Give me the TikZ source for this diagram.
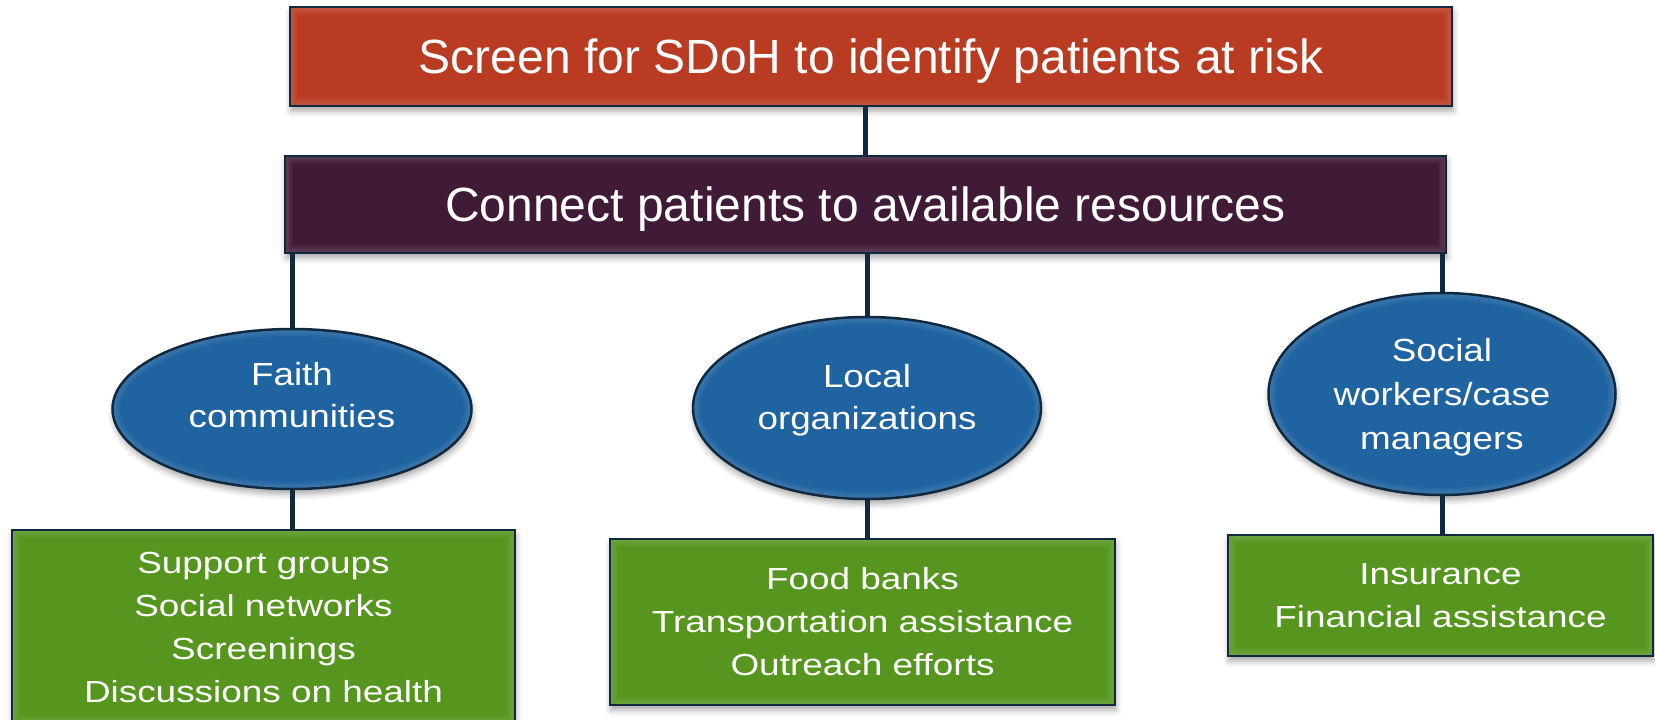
\documentclass[tikz,border=0pt]{standalone}
\usepackage{fontspec}
\setmainfont{Liberation Sans}
\newfontfamily\ovalface{Liberation Sans}[FakeStretch=1.15]
\newfontfamily\listface{Liberation Sans}[FakeStretch=1.21]
\usetikzlibrary{positioning,calc,shapes.geometric,shadows.blur}
\definecolor{ScreenRed}{HTML}{B93B21}
\definecolor{ConnectPlum}{HTML}{401B38}
\definecolor{SourceBlue}{HTML}{1F63A0}
\definecolor{OfferGreen}{HTML}{56961F}
\definecolor{EdgeNavy}{HTML}{10293F}

\begin{document}
\begin{tikzpicture}[x=1pt,y=-1pt,
    soft/.style={blur shadow={shadow xshift=1pt, shadow yshift=-5pt, shadow blur radius=6pt, shadow opacity=35}},
    boxglow/.style={path picture={
        \foreach \w in {16,12,8,4}
            \draw[white, opacity=0.04, line width=\w pt] (path picture bounding box.south west) rectangle (path picture bounding box.north east);}},
    ovalglow/.style={path picture={
        \foreach \w in {14,9,4}
            \draw[white, opacity=0.05, line width=\w pt] let \p1=(path picture bounding box.north east), \p2=(path picture bounding box.south west)
                in (path picture bounding box.center) ellipse [x radius={(\x1-\x2)/2}, y radius={(\y1-\y2)/2}];}},
    banner/.style={rectangle, draw=EdgeNavy, line width=2.5pt, text=white, inner sep=0pt, soft, boxglow,
        text depth=0pt, font=\fontsize{48}{56}\selectfont},
    source/.style={ellipse, draw=EdgeNavy, line width=2.5pt, fill=SourceBlue, text=white, align=center,
        inner sep=0pt, soft, ovalglow, font=\ovalface\fontsize{32}{42}\selectfont},
    offer/.style={rectangle, draw=EdgeNavy, line width=2.5pt, fill=OfferGreen, text=white, align=center,
        inner sep=0pt, soft, boxglow, font=\listface\fontsize{30.5}{43}\selectfont},
    link/.style={EdgeNavy, line width=5pt}]
    \useasboundingbox (0,0) rectangle (1655,720);

    % the two steps
    \node[banner, fill=ScreenRed, minimum width=1162, minimum height=99] (screen) at (871,56.5)
        {Screen for SDoH to identify patients at risk};
    \node[banner, fill=ConnectPlum, minimum width=1161, minimum height=97] (connect) at (865.5,204.5)
        {Connect patients to available resources};

    % where patients are sent
    \node[source, text depth=29pt, minimum width=359, minimum height=160] (faith) at (292,409)
        {Faith\\communities};
    \node[source, text depth=23pt, minimum width=348, minimum height=182] (local) at (867,408)
        {Local\\organizations};
    \node[source, text depth=0pt, font=\ovalface\fontsize{32}{44}\selectfont,
        minimum width=347, minimum height=202] (social) at (1442,394)
        {Social\\workers/case\\managers};

    % what each of them offers
    \node[offer, minimum width=503, minimum height=194] (faith-offer) at (263.5,627)
        {Support groups\\Social networks\\Screenings\\Discussions on health};
    \node[offer, minimum width=505, minimum height=166] (local-offer) at (862.5,622)
        {Food banks\\Transportation assistance\\Outreach efforts};
    \node[offer, minimum width=425, minimum height=121] (social-offer) at (1440.5,595.5)
        {Insurance\\Financial assistance};

    \draw[link] (connect.north) -- (connect.north |- screen.south);
    \foreach \src in {faith, local, social} {
        \draw[link] (\src.north) -- (\src.north |- connect.south);
        \draw[link] (\src.south) -- (\src.south |- \src-offer.north);
    }
\end{tikzpicture}
\end{document}
